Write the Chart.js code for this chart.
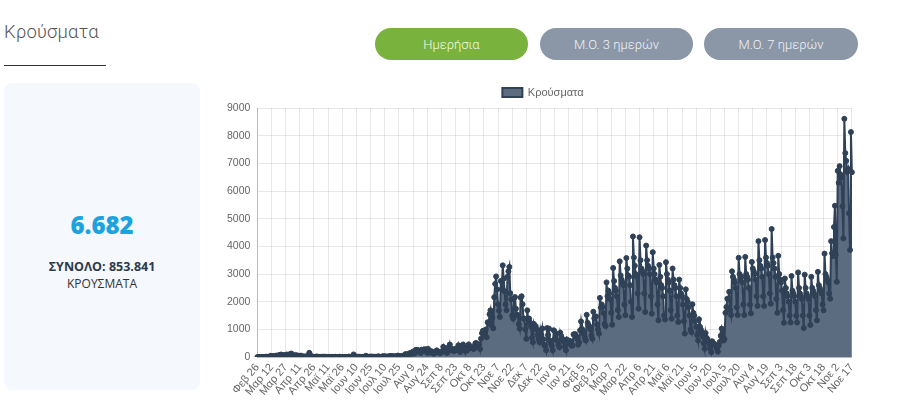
<!DOCTYPE html>
<html><head><meta charset="utf-8">
<script src="https://cdn.jsdelivr.net/npm/chart.js@4.4.1/dist/chart.umd.min.js"></script>
<style>
html,body{margin:0;padding:0;background:#fff}
body{width:900px;height:415px;position:relative;overflow:hidden;font-family:Roboto,"Noto Sans",sans-serif}
.title{position:absolute;left:4px;top:21px;font-family:Roboto;font-weight:300;font-size:18.5px;color:#555;letter-spacing:0.2px}
.uline{position:absolute;left:4px;top:65px;width:102px;height:1px;background:#333}
.btn{position:absolute;top:28px;height:32px;border-radius:16px;color:#eef2f6;font-family:Roboto;font-weight:300;font-size:13px;display:flex;align-items:center;justify-content:center}
.b1{left:375px;width:153px;background:#79b33d;color:#f3f9ea}
.b2{left:540px;width:153px;background:#8b97a6}
.b3{left:704px;width:154px;background:#8b97a6}
.panel{position:absolute;left:4px;top:83px;width:196px;height:307px;background:#f5f8fc;border-radius:8px}
.big{position:absolute;left:0;width:196px;top:125px;text-align:center;font-family:"Open Sans";font-weight:800;font-size:24px;color:#1ba3e0}
.tot{position:absolute;left:0;width:196px;top:175px;text-align:center;font-family:"Open Sans";font-weight:700;font-size:12.5px;color:#2e3a4a}
.lbl{position:absolute;left:0;width:196px;top:192px;text-align:center;font-family:"Open Sans";font-weight:400;font-size:12px;color:#333}
.chartbox{position:absolute;left:210px;top:81px;width:656px;height:321px}
</style>
</head><body>
<div class="title">Κρούσματα</div>
<div class="uline"></div>
<div class="btn b1">Ημερήσια</div>
<div class="btn b2">Μ.Ο. 3 ημερών</div>
<div class="btn b3">Μ.Ο. 7 ημερών</div>
<div class="panel">
  <div class="big">6.682</div>
  <div class="tot">ΣΥΝΟΛΟ: 853.841</div>
  <div class="lbl">ΚΡΟΥΣΜΑΤΑ</div>
</div>
<div class="chartbox"><canvas id="c"></canvas></div>
<script>
// Daily cases, one array per month (first day: 26 Feb 2020)
const feb2020 = [1, 2, 0, 4];
const mar2020 = [0, 0, 0, 2, 2, 14, 14, 5, 11, 9, 46, 17, 38, 38, 10, 21, 56, 31, 46, 77, 35, 94, 71, 67, 48, 71, 74, 95, 64, 60, 102];
const apr2020 = [99, 129, 60, 62, 58, 62, 71, 23, 56, 25, 20, 54, 20, 25, 22, 15, 19, 29, 12, 16, 156, 77, 10, 15, 11, 10, 11, 16, 21, 12];
const may2020 = [13, 4, 6, 10, 9, 10, 16, 6, 10, 0, 7, 8, 12, 10, 6, 6, 5, 6, 13, 3, 4, 3, 15, 6, 2, 3, 3, 3, 10, 3, 6];
const jun2020 = [8, 20, 9, 4, 15, 6, 97, 13, 10, 19, 9, 14, 13, 6, 3, 6, 12, 10, 21, 49, 19, 5, 9, 17, 8, 23, 4, 14, 8, 12];
const jul2020 = [11, 8, 27, 21, 10, 8, 16, 30, 26, 30, 11, 25, 7, 22, 30, 37, 36, 41, 19, 21, 29, 21, 32, 57, 39, 31, 31, 33, 43, 40, 78];
const aug2020 = [110, 75, 37, 121, 80, 153, 124, 151, 203, 125, 150, 262, 262, 254, 230, 217, 148, 269, 225, 269, 283, 217, 284, 157, 293, 168, 173, 212, 202, 150, 122];
const sep2020 = [163, 192, 244, 214, 171, 159, 147, 203, 206, 372, 245, 193, 196, 154, 339, 234, 453, 285, 301, 268, 223, 229, 306, 260, 255, 428, 274, 187, 298, 416];
const oct2020 = [459, 343, 232, 307, 233, 365, 460, 321, 330, 371, 322, 289, 314, 500, 508, 438, 460, 460, 291, 667, 865, 950, 841, 935, 1000, 715, 1259, 1211, 1547, 1690, 1152];
const nov2020 = [1424, 1041, 2166, 2646, 2917, 2448, 1914, 1677, 1450, 2752, 2448, 3316, 2835, 2384, 1900, 1695, 2900, 3100, 3260, 2311, 2079, 1498, 1390, 2131, 2170, 1747, 1541, 1498, 1193, 1030];
const dec2020 = [2150, 2199, 1913, 1395, 1388, 1000, 660, 1690, 1382, 1395, 1251, 1100, 697, 540, 1200, 1076, 1118, 1000, 800, 656, 540, 970, 800, 1032, 650, 442, 400, 250, 1050, 800, 1030];
const jan2021 = [600, 500, 400, 250, 970, 650, 700, 850, 600, 450, 360, 880, 760, 670, 600, 550, 370, 250, 640, 560, 500, 580, 570, 410, 420, 820, 830, 830, 750, 660, 450];
const feb2021 = [540, 970, 1290, 1020, 950, 830, 700, 600, 1530, 1240, 1150, 1100, 1000, 780, 660, 1640, 1400, 1460, 1470, 1180, 1000, 850, 2140, 1790, 1900, 1800, 1590, 1200];
const mar2021 = [1120, 2700, 2200, 2400, 2300, 2100, 1600, 1170, 3220, 2750, 2500, 2400, 2200, 1700, 1450, 3460, 2950, 2800, 2700, 2600, 1900, 1510, 3580, 3200, 2950, 2900, 2600, 2000, 1450, 4360, 3600];
const apr2021 = [3300, 3000, 2900, 2300, 1750, 4330, 3500, 3200, 3100, 3000, 2300, 1630, 4030, 3500, 3300, 3200, 3000, 2200, 1570, 3790, 3200, 3000, 2800, 2700, 1900, 1330, 3330, 2900, 2600, 2500];
const may2021 = [2200, 1500, 1360, 3430, 3000, 2800, 2700, 2400, 1700, 1390, 3200, 2800, 2600, 2500, 2200, 1500, 1270, 2800, 2500, 2300, 2200, 1900, 1300, 850, 2450, 2100, 2000, 1800, 1500, 1000, 900];
const jun2021 = [1910, 1600, 1500, 1300, 1100, 800, 600, 1370, 1100, 1000, 900, 750, 500, 300, 870, 700, 650, 550, 450, 300, 180, 570, 500, 480, 450, 400, 300, 200, 420, 550];
const jul2021 = [770, 1030, 900, 600, 650, 1600, 1810, 2110, 2100, 2360, 1700, 1520, 3100, 2900, 2800, 2700, 2500, 1800, 1520, 3590, 3000, 2800, 2900, 2700, 1900, 1520, 3620, 3000, 2900, 2800, 2500];
const aug2021 = [1900, 1580, 3440, 3200, 3100, 3000, 2800, 2200, 1850, 4190, 3500, 3300, 3200, 2900, 2200, 1850, 4230, 3600, 3400, 3300, 3000, 2300, 1930, 4630, 3600, 3400, 3200, 2900, 2100, 1600, 3660];
const sep2021 = [3000, 2800, 2700, 2400, 1700, 1240, 2840, 2500, 2300, 2200, 2000, 1500, 1250, 2930, 2400, 2300, 2200, 2000, 1500, 1250, 3060, 2500, 2300, 2200, 2100, 1500, 1050, 2980, 2500, 2300];
const oct2021 = [2200, 2100, 1500, 1160, 2900, 2500, 2400, 2300, 2200, 1700, 1330, 3080, 2600, 2500, 2400, 2300, 1900, 1690, 3740, 3000, 2900, 2800, 2700, 2300, 2110, 4190, 3750, 3650, 4700, 5470, 3700];
const nov2021 = [2720, 6730, 6300, 6900, 6600, 6500, 5450, 4290, 8610, 7370, 7090, 6700, 6800, 5200, 3870, 8130, 6682];

const monthNames = ['Ιαν','Φεβ','Μαρ','Απρ','Μαϊ','Ιουν','Ιουλ','Αυγ','Σεπ','Οκτ','Νοε','Δεκ'];
const startDate = [2020, 1, 26]; // 26 Feb 2020
const labelEvery = 15;
const seriesName = 'Κρούσματα';

const cases = [].concat(feb2020, mar2020, apr2020, may2020, jun2020, jul2020, aug2020, sep2020, oct2020, nov2020, dec2020,
  jan2021, feb2021, mar2021, apr2021, may2021, jun2021, jul2021, aug2021, sep2021, oct2021, nov2021);
const labels = cases.map((v, i) => {
  const d = new Date(Date.UTC(startDate[0], startDate[1], startDate[2] + i));
  return monthNames[d.getUTCMonth()] + ' ' + d.getUTCDate();
});

Chart.defaults.font.family = '"Liberation Sans", Arial, sans-serif';
Chart.defaults.color = '#666';

new Chart(document.getElementById('c'), {
  type: 'line',
  data: {
    labels: labels,
    datasets: [{
      label: seriesName,
      data: cases,
      borderColor: '#2f4156',
      backgroundColor: '#5b6b80',
      pointBackgroundColor: '#2f4156',
      pointBorderColor: '#2f4156',
      pointRadius: 2.5,
      pointBorderWidth: 1,
      borderWidth: 2,
      fill: 'origin',
      tension: 0
    }]
  },
  options: {
    responsive: true,
    maintainAspectRatio: false,
    animation: false,
    layout: { padding: { left: 10, right: 0, top: 0, bottom: 0 } },
    plugins: {
      legend: {
        display: true,
        labels: { boxWidth: 20, boxHeight: 9, font: { size: 11 }, color: '#666', padding: 6 }
      },
      tooltip: { enabled: false }
    },
    scales: {
      x: {
        grid: {
          color: ctx => (ctx.index % labelEvery === 0 ? 'rgba(0,0,0,0.09)' : 'rgba(0,0,0,0)'),
          drawTicks: false
        },
        border: { color: 'rgba(0,0,0,0.2)' },
        ticks: {
          autoSkip: false,
          minRotation: 50,
          maxRotation: 50,
          padding: 4,
          font: { size: 11 },
          color: '#666',
          callback: function (val, index) { return index % labelEvery === 0 ? this.getLabelForValue(val) : ''; }
        }
      },
      y: {
        min: 0,
        max: 9000,
        grid: { color: 'rgba(0,0,0,0.09)', drawTicks: false },
        border: { color: 'rgba(0,0,0,0.2)' },
        ticks: { stepSize: 1000, padding: 7, font: { size: 10.5 }, color: '#666', callback: v => String(v) }
      }
    }
  }
});
</script>
</body></html>
